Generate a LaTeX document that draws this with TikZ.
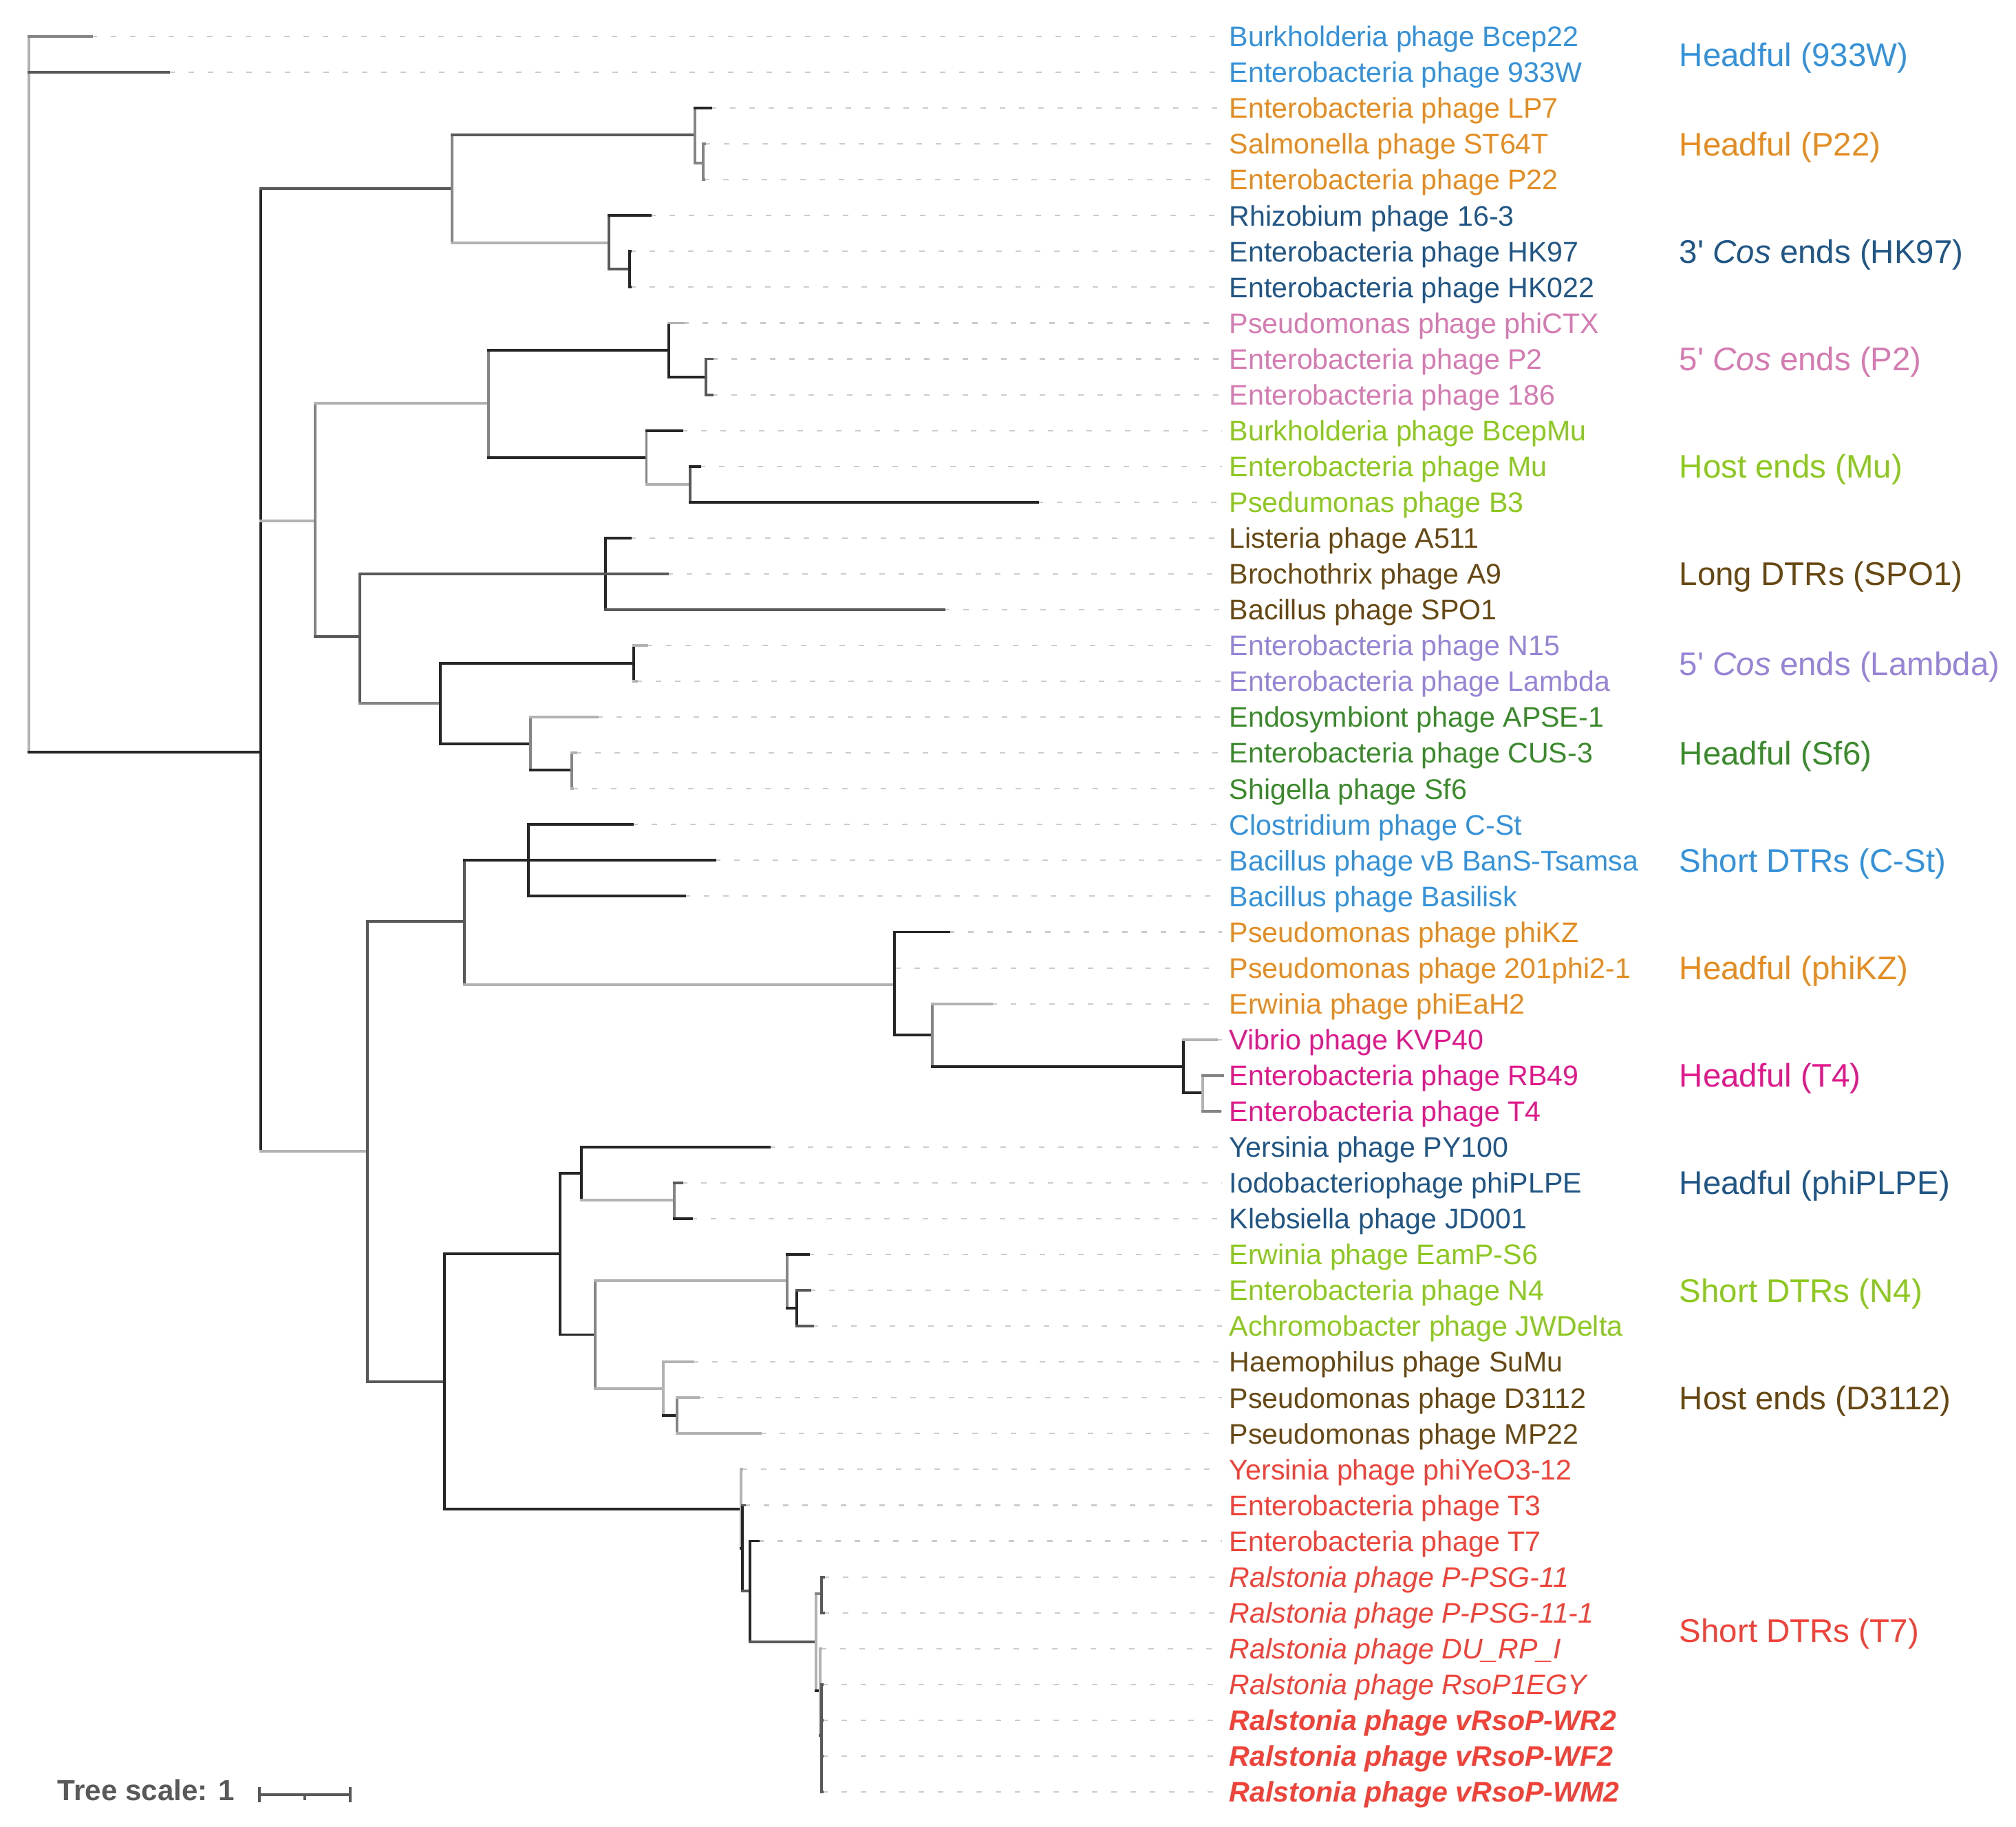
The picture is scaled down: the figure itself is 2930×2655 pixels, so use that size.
\documentclass[tikz,border=0pt]{standalone}
\usepackage{fontspec}
\setmainfont{Liberation Sans}
\definecolor{cblue}{RGB}{52,146,219}
\definecolor{corange}{RGB}{228,140,32}
\definecolor{cnavy}{RGB}{32,86,134}
\definecolor{cpink}{RGB}{214,122,178}
\definecolor{clime}{RGB}{140,200,30}
\definecolor{cbrown}{RGB}{104,72,18}
\definecolor{clav}{RGB}{152,132,214}
\definecolor{cgreen}{RGB}{58,138,44}
\definecolor{cmag}{RGB}{224,24,140}
\definecolor{cred}{RGB}{240,66,56}
\newcommand{\leaffont}{\fontsize{11.7}{14}\selectfont}
\newcommand{\grpfont}{\fontsize{13.5}{16}\selectfont}
\tikzstyle{leaf} = [anchor=base west, yshift=-0.147cm, inner xsep=0.1cm, inner ysep=0pt, font=\leaffont]
\tikzstyle{grp} = [anchor=base west, yshift=-0.17cm, inner sep=0pt, font=\grpfont]
\tikzstyle{leader} = [draw, black!20, line width=0.6pt, dash pattern=on 0.08cm off 0.2cm]
\tikzstyle{br1} = [draw, black!85, line width=1.1pt, line cap=rect]
\tikzstyle{br2} = [draw, black!65, line width=1.1pt, line cap=rect]
\tikzstyle{br3} = [draw, black!48, line width=1.1pt, line cap=rect]
\tikzstyle{br4} = [draw, black!30, line width=1.1pt, line cap=rect]
\tikzstyle{scalebar} = [draw, black!65, line width=1pt]
\tikzstyle{scaletxt} = [anchor=base west, yshift=-0.155cm, inner sep=0pt, text=black!65, font=\bfseries\fontsize{12}{14}\selectfont]

\begin{document}
\begin{tikzpicture}[x=0.01cm, y=-0.01cm]
\useasboundingbox (0,0) rectangle (2930,2655);
% leaf tips
\coordinate (t1) at (133,53);
\coordinate (t2) at (245.5,105.1);
\coordinate (t3) at (1033,157.1);
\coordinate (t4) at (1024,209.2);
\coordinate (t5) at (1023,261.2);
\coordinate (t6) at (945,313.3);
\coordinate (t7) at (916,365.4);
\coordinate (t8) at (916,417.4);
\coordinate (t9) at (993,469.5);
\coordinate (t10) at (1035,521.5);
\coordinate (t11) at (1035,573.6);
\coordinate (t12) at (991,625.7);
\coordinate (t13) at (1017,677.7);
\coordinate (t14) at (1508,729.8);
\coordinate (t15) at (916,781.8);
\coordinate (t16) at (970,833.9);
\coordinate (t17) at (1372,886.0);
\coordinate (t18) at (940,938.0);
\coordinate (t19) at (925,990.1);
\coordinate (t20) at (868,1042.1);
\coordinate (t21) at (837,1094.2);
\coordinate (t22) at (832,1146.3);
\coordinate (t23) at (919,1198.3);
\coordinate (t24) at (1039,1250.4);
\coordinate (t25) at (995,1302.4);
\coordinate (t26) at (1379,1354.5);
\coordinate (t27) at (1301,1406.6);
\coordinate (t28) at (1441,1458.6);
\coordinate (t29) at (1768,1510.7);
\coordinate (t30) at (1777,1562.7);
\coordinate (t31) at (1773,1614.8);
\coordinate (t32) at (1118,1666.9);
\coordinate (t33) at (991,1718.9);
\coordinate (t34) at (1005,1771.0);
\coordinate (t35) at (1175,1823.0);
\coordinate (t36) at (1177,1875.1);
\coordinate (t37) at (1181,1927.2);
\coordinate (t38) at (1007,1979.2);
\coordinate (t39) at (1015,2031.3);
\coordinate (t40) at (1105,2083.3);
\coordinate (t41) at (1078,2135.4);
\coordinate (t42) at (1082,2187.5);
\coordinate (t43) at (1102,2239.5);
\coordinate (t44) at (1197,2291.6);
\coordinate (t45) at (1197,2343.6);
\coordinate (t46) at (1193,2395.7);
\coordinate (t47) at (1195,2447.8);
\coordinate (t48) at (1195,2499.8);
\coordinate (t49) at (1195,2551.9);
\coordinate (t50) at (1195,2603.9);
% inner nodes
\coordinate (nroot) at (42,573);
\coordinate (nA) at (379,1093);
\coordinate (nP22HK) at (657,274);
\coordinate (nP22) at (1010,196);
\coordinate (nP22s) at (1022,237);
\coordinate (nHK) at (885,353);
\coordinate (nHKs) at (915,391);
\coordinate (nB) at (458,757);
\coordinate (nP2Mu) at (710,586);
\coordinate (nP2) at (972,509);
\coordinate (nP2s) at (1026,548);
\coordinate (nMu) at (939.5,665);
\coordinate (nMus) at (1003,704);
\coordinate (nC) at (523,925);
\coordinate (nSPO) at (880,834);
\coordinate (nD) at (640,1022);
\coordinate (nLam) at (921,964);
\coordinate (nSf) at (771,1081);
\coordinate (nSfs) at (831,1119);
\coordinate (nE) at (534,1673);
\coordinate (nF) at (675,1339);
\coordinate (nCSt) at (768,1250.4);
\coordinate (nKZ) at (1300,1431);
\coordinate (nKZs) at (1355,1504);
\coordinate (nT4) at (1720,1550);
\coordinate (nT4s) at (1748,1588);
\coordinate (nP) at (645.6,2008);
\coordinate (nM) at (814,1822);
\coordinate (nPL) at (845,1705);
\coordinate (nPLs) at (980,1744);
\coordinate (nN) at (865,1939.5);
\coordinate (nN4) at (1144,1861);
\coordinate (nN4s) at (1158,1901);
\coordinate (nD31) at (964,2018);
\coordinate (nD31s) at (984,2057);
\coordinate (nT7) at (1077,2193);
\coordinate (nT7a) at (1079,2250);
\coordinate (nT7b) at (1090,2312);
\coordinate (nRal) at (1186,2386);
\coordinate (nRala) at (1194,2316);
\coordinate (nRalb) at (1192,2457);
\coordinate (nRalc) at (1194,2522);
% leaf labels
\node[leaf, text=cblue] (l1) at (1776,53) {Burkholderia phage Bcep22};
\node[leaf, text=cblue] (l2) at (1776,105.1) {Enterobacteria phage 933W};
\node[leaf, text=corange] (l3) at (1776,157.1) {Enterobacteria phage LP7};
\node[leaf, text=corange] (l4) at (1776,209.2) {Salmonella phage ST64T};
\node[leaf, text=corange] (l5) at (1776,261.2) {Enterobacteria phage P22};
\node[leaf, text=cnavy] (l6) at (1776,313.3) {Rhizobium phage 16-3};
\node[leaf, text=cnavy] (l7) at (1776,365.4) {Enterobacteria phage HK97};
\node[leaf, text=cnavy] (l8) at (1776,417.4) {Enterobacteria phage HK022};
\node[leaf, text=cpink] (l9) at (1776,469.5) {Pseudomonas phage phiCTX};
\node[leaf, text=cpink] (l10) at (1776,521.5) {Enterobacteria phage P2};
\node[leaf, text=cpink] (l11) at (1776,573.6) {Enterobacteria phage 186};
\node[leaf, text=clime] (l12) at (1776,625.7) {Burkholderia phage BcepMu};
\node[leaf, text=clime] (l13) at (1776,677.7) {Enterobacteria phage Mu};
\node[leaf, text=clime] (l14) at (1776,729.8) {Psedumonas phage B3};
\node[leaf, text=cbrown] (l15) at (1776,781.8) {Listeria phage A511};
\node[leaf, text=cbrown] (l16) at (1776,833.9) {Brochothrix phage A9};
\node[leaf, text=cbrown] (l17) at (1776,886.0) {Bacillus phage SPO1};
\node[leaf, text=clav] (l18) at (1776,938.0) {Enterobacteria phage N15};
\node[leaf, text=clav] (l19) at (1776,990.1) {Enterobacteria phage Lambda};
\node[leaf, text=cgreen] (l20) at (1776,1042.1) {Endosymbiont phage APSE-1};
\node[leaf, text=cgreen] (l21) at (1776,1094.2) {Enterobacteria phage CUS-3};
\node[leaf, text=cgreen] (l22) at (1776,1146.3) {Shigella phage Sf6};
\node[leaf, text=cblue] (l23) at (1776,1198.3) {Clostridium phage C-St};
\node[leaf, text=cblue] (l24) at (1776,1250.4) {Bacillus phage vB BanS-Tsamsa};
\node[leaf, text=cblue] (l25) at (1776,1302.4) {Bacillus phage Basilisk};
\node[leaf, text=corange] (l26) at (1776,1354.5) {Pseudomonas phage phiKZ};
\node[leaf, text=corange] (l27) at (1776,1406.6) {Pseudomonas phage 201phi2-1};
\node[leaf, text=corange] (l28) at (1776,1458.6) {Erwinia phage phiEaH2};
\node[leaf, text=cmag] (l29) at (1776,1510.7) {Vibrio phage KVP40};
\node[leaf, text=cmag] (l30) at (1776,1562.7) {Enterobacteria phage RB49};
\node[leaf, text=cmag] (l31) at (1776,1614.8) {Enterobacteria phage T4};
\node[leaf, text=cnavy] (l32) at (1776,1666.9) {Yersinia phage PY100};
\node[leaf, text=cnavy] (l33) at (1776,1718.9) {Iodobacteriophage phiPLPE};
\node[leaf, text=cnavy] (l34) at (1776,1771.0) {Klebsiella phage JD001};
\node[leaf, text=clime] (l35) at (1776,1823.0) {Erwinia phage EamP-S6};
\node[leaf, text=clime] (l36) at (1776,1875.1) {Enterobacteria phage N4};
\node[leaf, text=clime] (l37) at (1776,1927.2) {Achromobacter phage JWDelta};
\node[leaf, text=cbrown] (l38) at (1776,1979.2) {Haemophilus phage SuMu};
\node[leaf, text=cbrown] (l39) at (1776,2031.3) {Pseudomonas phage D3112};
\node[leaf, text=cbrown] (l40) at (1776,2083.3) {Pseudomonas phage MP22};
\node[leaf, text=cred] (l41) at (1776,2135.4) {Yersinia phage phiYeO3-12};
\node[leaf, text=cred] (l42) at (1776,2187.5) {Enterobacteria phage T3};
\node[leaf, text=cred] (l43) at (1776,2239.5) {Enterobacteria phage T7};
\node[leaf, text=cred] (l44) at (1776,2291.6) {\itshape Ralstonia phage P-PSG-11};
\node[leaf, text=cred] (l45) at (1776,2343.6) {\itshape Ralstonia phage P-PSG-11-1};
\node[leaf, text=cred] (l46) at (1776,2395.7) {\itshape Ralstonia phage DU\_RP\_I};
\node[leaf, text=cred] (l47) at (1776,2447.8) {\itshape Ralstonia phage RsoP1EGY};
\node[leaf, text=cred] (l48) at (1776,2499.8) {\bfseries\itshape Ralstonia phage vRsoP-WR2};
\node[leaf, text=cred] (l49) at (1776,2551.9) {\bfseries\itshape Ralstonia phage vRsoP-WF2};
\node[leaf, text=cred] (l50) at (1776,2603.9) {\bfseries\itshape Ralstonia phage vRsoP-WM2};
% group labels
\node[grp, text=cblue] (g1) at (2440,79) {Headful (933W)};
\node[grp, text=corange] (g2) at (2440,209.2) {Headful (P22)};
\node[grp, text=cnavy] (g3) at (2440,365.4) {3\textquotesingle{} \textit{Cos} ends (HK97)};
\node[grp, text=cpink] (g4) at (2440,521.5) {5\textquotesingle{} \textit{Cos} ends (P2)};
\node[grp, text=clime] (g5) at (2440,677.7) {Host ends (Mu)};
\node[grp, text=cbrown] (g6) at (2440,833.9) {Long DTRs (SPO1)};
\node[grp, text=clav] (g7) at (2440,964) {5\textquotesingle{} \textit{Cos} ends (Lambda)};
\node[grp, text=cgreen] (g8) at (2440,1094.2) {Headful (Sf6)};
\node[grp, text=cblue] (g9) at (2440,1250.4) {Short DTRs (C-St)};
\node[grp, text=corange] (g10) at (2440,1406.6) {Headful (phiKZ)};
\node[grp, text=cmag] (g11) at (2440,1562.7) {Headful (T4)};
\node[grp, text=cnavy] (g12) at (2440,1718.9) {Headful (phiPLPE)};
\node[grp, text=clime] (g13) at (2440,1875.1) {Short DTRs (N4)};
\node[grp, text=cbrown] (g14) at (2440,2031.3) {Host ends (D3112)};
\node[grp, text=cred] (g15) at (2440,2369.7) {Short DTRs (T7)};
% dotted leaders
\path[leader] (t1) -- (t1 -| l1.west);
\path[leader] (t2) -- (t2 -| l2.west);
\path[leader] (t3) -- (t3 -| l3.west);
\path[leader] (t4) -- (t4 -| l4.west);
\path[leader] (t5) -- (t5 -| l5.west);
\path[leader] (t6) -- (t6 -| l6.west);
\path[leader] (t7) -- (t7 -| l7.west);
\path[leader] (t8) -- (t8 -| l8.west);
\path[leader] (t9) -- (t9 -| l9.west);
\path[leader] (t10) -- (t10 -| l10.west);
\path[leader] (t11) -- (t11 -| l11.west);
\path[leader] (t12) -- (t12 -| l12.west);
\path[leader] (t13) -- (t13 -| l13.west);
\path[leader] (t14) -- (t14 -| l14.west);
\path[leader] (t15) -- (t15 -| l15.west);
\path[leader] (t16) -- (t16 -| l16.west);
\path[leader] (t17) -- (t17 -| l17.west);
\path[leader] (t18) -- (t18 -| l18.west);
\path[leader] (t19) -- (t19 -| l19.west);
\path[leader] (t20) -- (t20 -| l20.west);
\path[leader] (t21) -- (t21 -| l21.west);
\path[leader] (t22) -- (t22 -| l22.west);
\path[leader] (t23) -- (t23 -| l23.west);
\path[leader] (t24) -- (t24 -| l24.west);
\path[leader] (t25) -- (t25 -| l25.west);
\path[leader] (t26) -- (t26 -| l26.west);
\path[leader] (t27) -- (t27 -| l27.west);
\path[leader] (t28) -- (t28 -| l28.west);
\path[leader] (t29) -- (t29 -| l29.west);
\path[leader] (t30) -- (t30 -| l30.west);
\path[leader] (t31) -- (t31 -| l31.west);
\path[leader] (t32) -- (t32 -| l32.west);
\path[leader] (t33) -- (t33 -| l33.west);
\path[leader] (t34) -- (t34 -| l34.west);
\path[leader] (t35) -- (t35 -| l35.west);
\path[leader] (t36) -- (t36 -| l36.west);
\path[leader] (t37) -- (t37 -| l37.west);
\path[leader] (t38) -- (t38 -| l38.west);
\path[leader] (t39) -- (t39 -| l39.west);
\path[leader] (t40) -- (t40 -| l40.west);
\path[leader] (t41) -- (t41 -| l41.west);
\path[leader] (t42) -- (t42 -| l42.west);
\path[leader] (t43) -- (t43 -| l43.west);
\path[leader] (t44) -- (t44 -| l44.west);
\path[leader] (t45) -- (t45 -| l45.west);
\path[leader] (t46) -- (t46 -| l46.west);
\path[leader] (t47) -- (t47 -| l47.west);
\path[leader] (t48) -- (t48 -| l48.west);
\path[leader] (t49) -- (t49 -| l49.west);
\path[leader] (t50) -- (t50 -| l50.west);
% root and first split
\path[br4] (nroot |- t1) -- (nroot |- nA);
\path[br3] (nroot |- t1) -- (t1);
\path[br2] (nroot |- t2) -- (t2);
\path[br1] (nroot |- nA) -- (nA);
\path[br1] (nA |- nP22HK) -- (nA |- nE);
\path[br2] (nA |- nP22HK) -- (nP22HK);
\path[br4] (nA |- nB) -- (nB);
\path[br4] (nA |- nE) -- (nE);
% headful P22 and 3' cos
\path[br3] (nP22HK |- nP22) -- (nP22HK |- nHK);
\path[br2] (nP22HK |- nP22) -- (nP22);
\path[br4] (nP22HK |- nHK) -- (nHK);
\path[br3] (nP22 |- t3) -- (nP22 |- nP22s);
\path[br1] (nP22 |- t3) -- (t3);
\path[br3] (nP22 |- nP22s) -- (nP22s);
\path[br3] (nP22s |- t4) -- (nP22s |- t5);
\path[br3] (nP22s |- t4) -- (t4);
\path[br3] (nP22s |- t5) -- (t5);
\path[br2] (nHK |- t6) -- (nHK |- nHKs);
\path[br1] (nHK |- t6) -- (t6);
\path[br2] (nHK |- nHKs) -- (nHKs);
\path[br1] (nHKs |- t7) -- (nHKs |- t8);
\path[br1] (nHKs |- t7) -- (t7);
\path[br1] (nHKs |- t8) -- (t8);
% 5' cos P2, host ends Mu
\path[br3] (nB |- nP2Mu) -- (nB |- nC);
\path[br4] (nB |- nP2Mu) -- (nP2Mu);
\path[br2] (nB |- nC) -- (nC);
\path[br3] (nP2Mu |- nP2) -- (nP2Mu |- nMu);
\path[br1] (nP2Mu |- nP2) -- (nP2);
\path[br1] (nP2Mu |- nMu) -- (nMu);
\path[br1] (nP2 |- t9) -- (nP2 |- nP2s);
\path[br4] (nP2 |- t9) -- (t9);
\path[br1] (nP2 |- nP2s) -- (nP2s);
\path[br2] (nP2s |- t10) -- (nP2s |- t11);
\path[br2] (nP2s |- t10) -- (t10);
\path[br2] (nP2s |- t11) -- (t11);
\path[br3] (nMu |- t12) -- (nMu |- nMus);
\path[br1] (nMu |- t12) -- (t12);
\path[br4] (nMu |- nMus) -- (nMus);
\path[br2] (nMus |- t13) -- (nMus |- t14);
\path[br1] (nMus |- t13) -- (t13);
\path[br1] (nMus |- t14) -- (t14);
% long DTRs, lambda, Sf6
\path[br2] (nC |- nSPO) -- (nC |- nD);
\path[br2] (nC |- nSPO) -- (nSPO);
\path[br3] (nC |- nD) -- (nD);
\path[br1] (nSPO |- t15) -- (nSPO |- t17);
\path[br1] (nSPO |- t15) -- (t15);
\path[br2] (nSPO |- t16) -- (t16);
\path[br2] (nSPO |- t17) -- (t17);
\path[br1] (nD |- nLam) -- (nD |- nSf);
\path[br1] (nD |- nLam) -- (nLam);
\path[br1] (nD |- nSf) -- (nSf);
\path[br1] (nLam |- t18) -- (nLam |- t19);
\path[br4] (nLam |- t18) -- (t18);
\path[br4] (nLam |- t19) -- (t19);
\path[br3] (nSf |- t20) -- (nSf |- nSfs);
\path[br4] (nSf |- t20) -- (t20);
\path[br1] (nSf |- nSfs) -- (nSfs);
\path[br3] (nSfs |- t21) -- (nSfs |- t22);
\path[br4] (nSfs |- t21) -- (t21);
\path[br4] (nSfs |- t22) -- (t22);
% short DTRs C-St, phiKZ, T4
\path[br2] (nE |- nF) -- (nE |- nP);
\path[br2] (nE |- nF) -- (nF);
\path[br2] (nE |- nP) -- (nP);
\path[br2] (nF |- nCSt) -- (nF |- nKZ);
\path[br1] (nF |- nCSt) -- (nCSt);
\path[br4] (nF |- nKZ) -- (nKZ);
\path[br1] (nCSt |- t23) -- (nCSt |- t25);
\path[br1] (nCSt |- t23) -- (t23);
\path[br1] (nCSt |- t24) -- (t24);
\path[br1] (nCSt |- t25) -- (t25);
\path[br1] (nKZ |- t26) -- (nKZ |- nKZs);
\path[br1] (nKZ |- t26) -- (t26);
\path[br1] (nKZ |- nKZs) -- (nKZs);
\path[br3] (nKZs |- t28) -- (nKZs |- nT4);
\path[br4] (nKZs |- t28) -- (t28);
\path[br1] (nKZs |- nT4) -- (nT4);
\path[br1] (nT4 |- t29) -- (nT4 |- nT4s);
\path[br4] (nT4 |- t29) -- (t29);
\path[br1] (nT4 |- nT4s) -- (nT4s);
\path[br4] (nT4s |- t30) -- (nT4s |- t31);
\path[br3] (nT4s |- t30) -- (t30);
\path[br3] (nT4s |- t31) -- (t31);
% phiPLPE, N4, D3112
\path[br1] (nP |- nM) -- (nP |- nT7);
\path[br1] (nP |- nM) -- (nM);
\path[br1] (nP |- nT7) -- (nT7);
\path[br1] (nM |- nPL) -- (nM |- nN);
\path[br1] (nM |- nPL) -- (nPL);
\path[br1] (nM |- nN) -- (nN);
\path[br1] (nPL |- t32) -- (nPL |- nPLs);
\path[br1] (nPL |- t32) -- (t32);
\path[br4] (nPL |- nPLs) -- (nPLs);
\path[br3] (nPLs |- t33) -- (nPLs |- t34);
\path[br2] (nPLs |- t33) -- (t33);
\path[br1] (nPLs |- t34) -- (t34);
\path[br3] (nN |- nN4) -- (nN |- nD31);
\path[br4] (nN |- nN4) -- (nN4);
\path[br4] (nN |- nD31) -- (nD31);
\path[br3] (nN4 |- t35) -- (nN4 |- nN4s);
\path[br1] (nN4 |- t35) -- (t35);
\path[br1] (nN4 |- nN4s) -- (nN4s);
\path[br1] (nN4s |- t36) -- (nN4s |- t37);
\path[br2] (nN4s |- t36) -- (t36);
\path[br2] (nN4s |- t37) -- (t37);
\path[br4] (nD31 |- t38) -- (nD31 |- nD31s);
\path[br4] (nD31 |- t38) -- (t38);
\path[br1] (nD31 |- nD31s) -- (nD31s);
\path[br3] (nD31s |- t39) -- (nD31s |- t40);
\path[br4] (nD31s |- t39) -- (t39);
\path[br4] (nD31s |- t40) -- (t40);
% short DTRs T7
\path[br4] (nT7 |- t41) -- (nT7 |- nT7a);
\path[br4] (nT7 |- t41) -- (t41);
\path[br1] (nT7 |- nT7a) -- (nT7a);
\path[br1] (nT7a |- t42) -- (nT7a |- nT7b);
\path[br2] (nT7a |- t42) -- (t42);
\path[br2] (nT7a |- nT7b) -- (nT7b);
\path[br1] (nT7b |- t43) -- (nT7b |- nRal);
\path[br1] (nT7b |- t43) -- (t43);
\path[br2] (nT7b |- nRal) -- (nRal);
\path[br4] (nRal |- nRala) -- (nRal |- nRalb);
\path[br3] (nRal |- nRala) -- (nRala);
\path[br1] (nRal |- nRalb) -- (nRalb);
\path[br2] (nRala |- t44) -- (nRala |- t45);
\path[br2] (nRala |- t44) -- (t44);
\path[br2] (nRala |- t45) -- (t45);
\path[br4] (nRalb |- t46) -- (nRalb |- nRalc);
\path[br4] (nRalb |- t46) -- (t46);
\path[br2] (nRalb |- nRalc) -- (nRalc);
\path[br2] (nRalc |- t47) -- (nRalc |- t50);
\path[br2] (nRalc |- t47) -- (t47);
\path[br2] (nRalc |- t48) -- (t48);
\path[br2] (nRalc |- t49) -- (t49);
\path[br2] (nRalc |- t50) -- (t50);
% tree scale
\node[scaletxt] (tscale) at (83,2601) {Tree scale: 1};
\coordinate (sb1) at (377,2608);
\coordinate (sbm) at (443,2608);
\coordinate (sb2) at (509,2608);
\path[scalebar] (sb1) -- (sb2);
\path[scalebar] ([yshift=0.11cm]sb1) -- ([yshift=-0.11cm]sb1);
\path[scalebar] ([yshift=0.11cm]sb2) -- ([yshift=-0.11cm]sb2);
\path[scalebar] (sbm) -- ([yshift=-0.08cm]sbm);
\end{tikzpicture}
\end{document}
